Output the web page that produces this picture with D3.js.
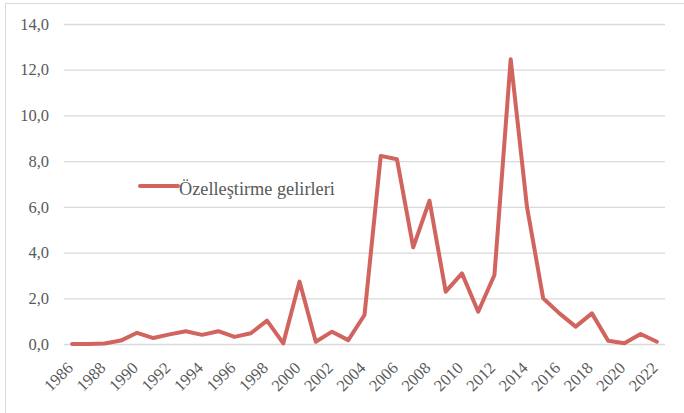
<!DOCTYPE html>
<html>
<head>
<meta charset="utf-8">
<script src="https://cdn.jsdelivr.net/npm/d3@7"></script>
<style>
  body { margin: 0; background: #fff; }
</style>
</head>
<body>
<div id="chart"></div>
<script>
"use strict";

// Özelleştirme gelirleri, yıllar 1986-2022
const years = d3.range(1986, 2023).map(String);
const values = [
  0.0, 0.0, 0.02, 0.15, 0.49, 0.26, 0.42, 0.56, 0.40, 0.56,
  0.31, 0.47, 1.02, 0.03, 2.73, 0.10, 0.54, 0.17, 1.27, 8.23,
  8.08, 4.23, 6.27, 2.29, 3.09, 1.41, 3.02, 12.46, 6.01, 2.00,
  1.34, 0.76, 1.34, 0.14, 0.03, 0.44, 0.10
];
const yTicks = [0, 2, 4, 6, 8, 10, 12, 14];
const seriesName = "Özelleştirme gelirleri";

const width = 684, height = 413;
const margin = { top: 24, right: 19, bottom: 69, left: 64 };
const lineColor = "#d2645f";
const textColor = "#595959";
const font = "'Liberation Serif'";

let svg = d3.select("#chart").append("svg")
  .attr("width", width)
  .attr("height", height);

// chart frame
svg.append("rect")
  .attr("x", 5.5).attr("y", 3.5)
  .attr("width", width + 10).attr("height", height + 10)
  .attr("fill", "none")
  .attr("stroke", "#d9d9d9");

let x = d3.scaleBand()
  .domain(years)
  .range([margin.left, width - margin.right]);

let y = d3.scaleLinear()
  .domain([0, 14])
  .range([height - margin.bottom, margin.top]);

// gridlines + y labels
let yAxis = svg.append("g")
  .attr("transform", "translate(" + margin.left + ",0)")
  .call(d3.axisLeft(y)
    .tickValues(yTicks)
    .tickSize(-(width - margin.left - margin.right))
    .tickPadding(15)
    .tickFormat(d => d3.format(".1f")(d).replace(".", ",")));
yAxis.select(".domain").remove();
yAxis.selectAll("line").attr("stroke", "#d9d9d9").attr("stroke-width", 1.3);
yAxis.selectAll("text")
  .attr("fill", textColor)
  .style("font-size", "16.5px")
  .style("font-family", font);

// x labels, every other year
let xAxis = svg.append("g")
  .attr("transform", "translate(0," + y(0) + ")")
  .call(d3.axisBottom(x)
    .tickValues(years.filter((d, i) => i % 2 === 0))
    .tickSize(0));
xAxis.select(".domain").remove();
xAxis.selectAll("text")
  .attr("fill", textColor)
  .style("font-size", "16.5px")
  .style("font-family", font)
  .attr("text-anchor", "end")
  .attr("dy", null)
  .attr("y", 0)
  .attr("transform", "translate(2,25) rotate(-45)");

// series line
let line = d3.line()
  .x((d, i) => x(years[i]) + x.bandwidth() / 2)
  .y(d => y(d));

svg.append("path")
  .datum(values)
  .attr("d", line)
  .attr("fill", "none")
  .attr("stroke", lineColor)
  .attr("stroke-width", 4)
  .attr("stroke-linejoin", "round")
  .attr("stroke-linecap", "round");

// legend
let lg = svg.append("g").attr("transform", "translate(140,186)");
lg.append("line")
  .attr("x1", 0).attr("x2", 38)
  .attr("stroke", lineColor)
  .attr("stroke-width", 4)
  .attr("stroke-linecap", "round");
lg.append("text")
  .attr("x", 39).attr("y", 8.5)
  .attr("fill", textColor)
  .style("font-size", "18.3px")
  .style("font-family", font)
  .text(seriesName);
</script>
</body>
</html>
